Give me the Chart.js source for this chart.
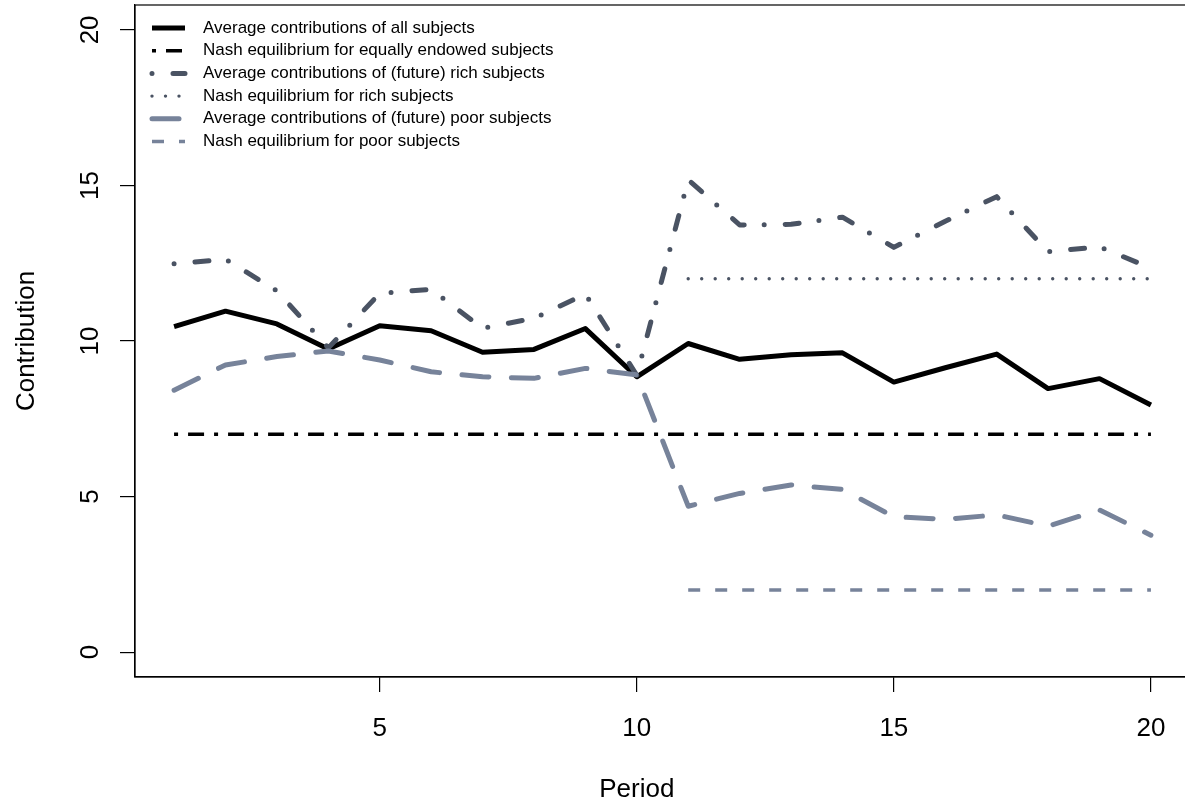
<!DOCTYPE html>
<html>
<head>
<meta charset="utf-8">
<title>Contributions by period</title>
<script src="https://cdn.jsdelivr.net/npm/chart.js@4.4.0/dist/chart.umd.min.js"></script>
<style>
    html, body { margin: 0; padding: 0; background: #fff; overflow: hidden; }
    canvas { display: block; }
</style>
</head>
<body>
<canvas id="contributionChart" width="1195" height="809"></canvas>
<script>
// Chart data
const periods = [1, 2, 3, 4, 5, 6, 7, 8, 9, 10, 11, 12, 13, 14, 15, 16, 17, 18, 19, 20];
const allSubjects = [10.46, 10.96, 10.55, 9.74, 10.49, 10.33, 9.64, 9.73, 10.40, 8.85,
                     9.92, 9.41, 9.56, 9.62, 8.68, 9.14, 9.58, 8.47, 8.79, 7.94];
const nashEqual = [7, 7, 7, 7, 7, 7, 7, 7, 7, 7, 7, 7, 7, 7, 7, 7, 7, 7, 7, 7];
const richSubjects = [12.48, 12.63, 11.61, 9.78, 11.53, 11.66, 10.41, 10.73, 11.51, 8.9,
                      15.18, 13.73, 13.75, 13.98, 13.01, 13.85, 14.64, 12.87, 13.03, 12.34];
const nashRich = [null, null, null, null, null, null, null, null, null, null,
                  12, 12, 12, 12, 12, 12, 12, 12, 12, 12];
const poorSubjects = [8.42, 9.23, 9.50, 9.68, 9.39, 9.01, 8.85, 8.80, 9.12, 8.91,
                      4.69, 5.10, 5.37, 5.23, 4.35, 4.27, 4.41, 4.05, 4.57, 3.76];
const nashPoor = [null, null, null, null, null, null, null, null, null, null,
                  2, 2, 2, 2, 2, 2, 2, 2, 2, 2];
const seriesLabels = [
    'Average contributions of all subjects',
    'Nash equilibrium for equally endowed subjects',
    'Average contributions of (future) rich subjects',
    'Nash equilibrium for rich subjects',
    'Average contributions of (future) poor subjects',
    'Nash equilibrium for poor subjects'
];
const xTicks = [5, 10, 15, 20];
const yTicks = [0, 5, 10, 15, 20];
const xTitle = 'Period';

const FONT = '"Liberation Sans", Arial, Helvetica, sans-serif';
const RICH_COLOR = '#4a5363';
const POOR_COLOR = '#77839a';

Chart.defaults.font.family = FONT;
Chart.defaults.color = '#000';

function toPoints(values) {
    return periods.map((p, i) => ({ x: p, y: values[i] }));
}

// Legend drawn inside the plot, top left, like the original
const insideLegend = {
    id: 'insideLegend',
    afterDraw(chart) {
        const ctx = chart.ctx;
        const area = chart.chartArea;
        ctx.save();
        ctx.font = '17px ' + FONT;
        ctx.textBaseline = 'middle';
        chart.data.datasets.forEach((ds, i) => {
            const y = area.top + 23 + i * 22.7;
            const x0 = area.left + 17;
            ctx.strokeStyle = ds.borderColor;
            ctx.lineWidth = ds.borderWidth;
            ctx.lineCap = ds.borderCapStyle || 'butt';
            ctx.setLineDash(ds.borderDash || []);
            ctx.beginPath();
            ctx.moveTo(x0, y);
            ctx.lineTo(x0 + 33, y);
            ctx.stroke();
            ctx.setLineDash([]);
            ctx.fillStyle = '#000';
            ctx.fillText(ds.label, area.left + 68, y);
        });
        ctx.restore();
    }
};

// Box round the plot region, and the x axis title (sits under the 10 tick in the original)
const plotBox = {
    id: 'plotBox',
    afterDraw(chart) {
        const { ctx, chartArea: a } = chart;
        ctx.save();
        ctx.strokeStyle = '#000';
        ctx.lineWidth = 1.2;
        ctx.strokeRect(a.left, a.top, a.right - a.left, a.bottom - a.top);
        ctx.font = '26px ' + FONT;
        ctx.fillStyle = '#000';
        ctx.textAlign = 'center';
        ctx.textBaseline = 'middle';
        ctx.fillText(xTitle, chart.scales.x.getPixelForValue(10), 790);
        ctx.restore();
    }
};

function noScalePadding(scale) {
    scale.paddingTop = 0;
    scale.paddingBottom = 0;
    scale.paddingLeft = 0;
    scale.paddingRight = 0;
}

new Chart(document.getElementById('contributionChart'), {
    type: 'line',
    data: {
        datasets: [
            {
                label: seriesLabels[0],
                data: toPoints(allSubjects),
                borderColor: '#000',
                borderWidth: 5,
                borderJoinStyle: 'round',
                order: 6
            },
            {
                label: seriesLabels[1],
                data: toPoints(nashEqual),
                borderColor: '#000',
                borderWidth: 3.5,
                borderDash: [4, 10, 16, 10],
                order: 5
            },
            {
                label: seriesLabels[2],
                data: toPoints(richSubjects),
                borderColor: RICH_COLOR,
                borderWidth: 5,
                borderCapStyle: 'round',
                borderJoinStyle: 'round',
                borderDash: [0, 21, 14, 20],
                order: 4
            },
            {
                label: seriesLabels[3],
                data: toPoints(nashRich),
                borderColor: RICH_COLOR,
                borderWidth: 3.4,
                borderCapStyle: 'round',
                borderDash: [0, 13.5],
                order: 3
            },
            {
                label: seriesLabels[4],
                data: toPoints(poorSubjects),
                borderColor: POOR_COLOR,
                borderWidth: 5,
                borderCapStyle: 'round',
                borderJoinStyle: 'round',
                borderDash: [27, 22.5],
                order: 2
            },
            {
                label: seriesLabels[5],
                data: toPoints(nashPoor),
                borderColor: POOR_COLOR,
                borderWidth: 3.5,
                borderDash: [12, 15],
                order: 1
            }
        ]
    },
    options: {
        responsive: false,
        animation: false,
        devicePixelRatio: 1,
        layout: {
            padding: { left: 0, top: 5, right: 5, bottom: 0 }
        },
        elements: {
            point: { radius: 0, hoverRadius: 0 },
            line: { tension: 0, fill: false }
        },
        plugins: {
            legend: { display: false },
            tooltip: { enabled: false }
        },
        scales: {
            x: {
                type: 'linear',
                min: 0.24,
                max: 20.76,
                afterBuildTicks: (scale) => {
                    scale.ticks = xTicks.map(v => ({ value: v }));
                },
                afterFit: (scale) => {
                    scale.height = 132;
                    noScalePadding(scale);
                },
                grid: {
                    drawOnChartArea: false,
                    drawTicks: true,
                    tickLength: 15,
                    color: '#000',
                    lineWidth: 1.2
                },
                border: { display: true, color: '#000', width: 1.2 },
                ticks: {
                    font: { size: 26 },
                    padding: 21,
                    maxRotation: 0,
                    autoSkip: false
                },
                title: { display: false }
            },
            y: {
                type: 'linear',
                min: -0.8,
                max: 20.8,
                afterBuildTicks: (scale) => {
                    scale.ticks = yTicks.map(v => ({ value: v }));
                },
                afterFit: (scale) => {
                    scale.width = 135;
                    noScalePadding(scale);
                },
                grid: {
                    drawOnChartArea: false,
                    drawTicks: true,
                    tickLength: 15,
                    color: '#000',
                    lineWidth: 1.2
                },
                border: { display: true, color: '#000', width: 1.2 },
                ticks: {
                    font: { size: 26 },
                    padding: 15,
                    minRotation: 90,
                    maxRotation: 90,
                    crossAlign: 'center',
                    autoSkip: false
                },
                title: {
                    display: true,
                    text: 'Contribution',
                    font: { size: 26 },
                    padding: { top: 11, bottom: 0 }
                }
            }
        }
    },
    plugins: [insideLegend, plotBox]
});
</script>
</body>
</html>
